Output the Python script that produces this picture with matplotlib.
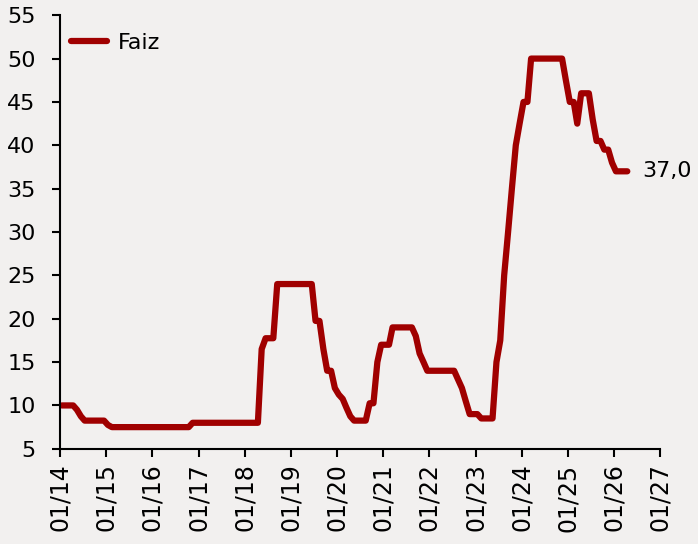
import numpy as np
import pandas as pd
import matplotlib
matplotlib.use("Agg")
import matplotlib.pyplot as plt

# monthly policy rate (%), Jan 2014 .. Apr 2026 (mid-month points)
r2014 = [10, 10, 10, 10, 9.5, 8.75, 8.25, 8.25, 8.25, 8.25, 8.25, 8.25]
r2015 = [7.75, 7.5, 7.5, 7.5, 7.5, 7.5, 7.5, 7.5, 7.5, 7.5, 7.5, 7.5]
r2016 = [7.5, 7.5, 7.5, 7.5, 7.5, 7.5, 7.5, 7.5, 7.5, 7.5, 8, 8]
r2017 = [8] * 12
r2018 = [8, 8, 8, 8, 16.5, 17.75, 17.75, 17.75, 24, 24, 24, 24]
r2019 = [24, 24, 24, 24, 24, 24, 19.75, 19.75, 16.5, 14, 14, 12]
r2020 = [11.25, 10.75, 9.75, 8.75, 8.25, 8.25, 8.25, 8.25, 10.25, 10.25, 15, 17]
r2021 = [17, 17, 19, 19, 19, 19, 19, 19, 18, 16, 15, 14]
r2022 = [14, 14, 14, 14, 14, 14, 14, 13, 12, 10.5, 9, 9]
r2023 = [9, 8.5, 8.5, 8.5, 8.5, 15, 17.5, 25, 30, 35, 40, 42.5]
r2024 = [45, 45, 50, 50, 50, 50, 50, 50, 50, 50, 50, 47.5]
r2025 = [45, 45, 42.5, 46, 46, 46, 43, 40.5, 40.5, 39.5, 39.5, 38]
r2026 = [37, 37, 37, 37]

rates = r2014 + r2015 + r2016 + r2017 + r2018 + r2019 + r2020 + r2021 + r2022 + r2023 + r2024 + r2025 + r2026
dates = pd.date_range("2014-01-01", periods=len(rates), freq="MS") + pd.Timedelta(days=14)

years = list(range(2014, 2028))
tick_dates = [pd.Timestamp(y, 1, 1) for y in years]
tick_labels = ["01/%02d" % (y % 100) for y in years]

bg = "#f2f0ef"
red = "#a00000"

plt.rcParams["font.family"] = "DejaVu Sans"
fig = plt.figure(figsize=(6.98, 5.44), dpi=100, facecolor=bg)
ax = fig.add_axes([0.086, 0.175, 0.86, 0.797], facecolor=bg)

ax.plot(dates, rates, color=red, lw=4.5, solid_joinstyle="round", solid_capstyle="round", label="Faiz")
last = ("%.1f" % rates[-1]).replace(".", ",")
ax.annotate(last, xy=(dates[-1], rates[-1]), xytext=(11, 0), textcoords="offset points",
            va="center", ha="left", fontsize=16)

ax.set_xlim(tick_dates[0], tick_dates[-1])
ax.set_ylim(5, 55)
ax.set_yticks(np.arange(5, 56, 5))
ax.set_xticks(tick_dates)
ax.set_xticklabels(tick_labels, rotation=90)
ax.tick_params(axis="both", direction="out", length=5.5, width=1.5, colors="black")
ax.tick_params(axis="y", labelsize=16, pad=12)
ax.tick_params(axis="x", labelsize=17, pad=5)

for s in ["top", "right"]:
    ax.spines[s].set_visible(False)
for s in ["left", "bottom"]:
    ax.spines[s].set_linewidth(1.5)

ax.legend(loc="upper left", frameon=False, fontsize=16, handlelength=1.6, handletextpad=0.5,
          bbox_to_anchor=(0.004, 0.98), borderaxespad=0.0, borderpad=0.4)

fig.savefig("out.png", dpi=100, facecolor=bg)
